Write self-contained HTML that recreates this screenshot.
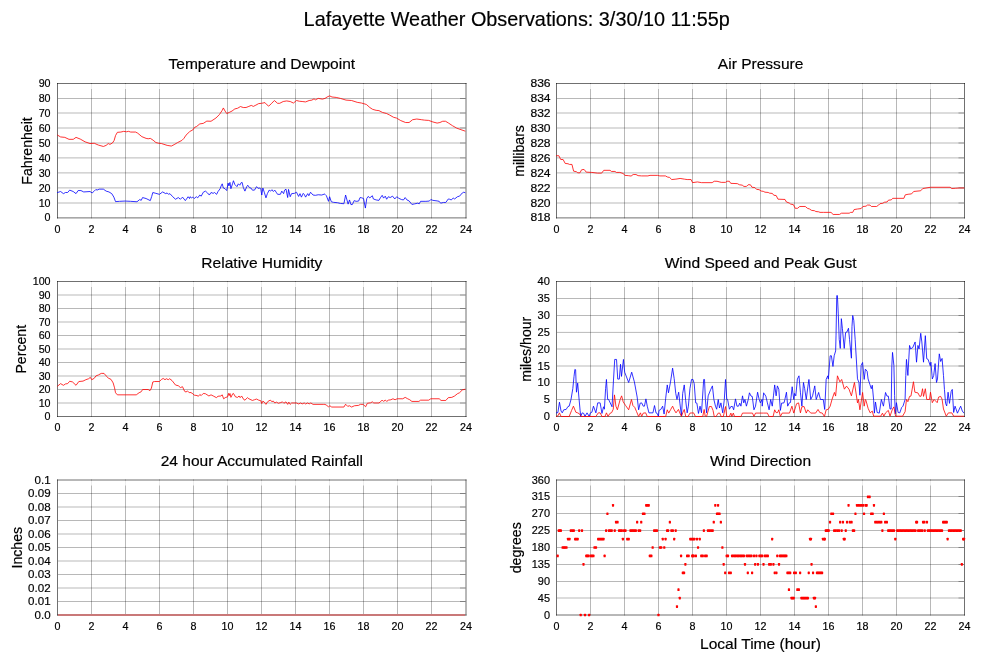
<!DOCTYPE html>
<html lang="en"><head><meta charset="utf-8"><title>Lafayette Weather Observations</title>
<style>html,body{margin:0;padding:0;background:#fff}svg{display:block}text{stroke:#000;stroke-width:.18px}</style></head>
<body>
<svg width="999" height="659" viewBox="0 0 999 659" font-family='"Liberation Sans", sans-serif' fill="#000">
<rect width="999" height="659" fill="#fff"/>
<text x="516.7" y="25.5" font-size="19.85" text-anchor="middle">Lafayette Weather Observations: 3/30/10 11:55p</text>
<g>
<path d="M91.5 83V218.4M125.5 83V218.4M159.5 83V218.4M193.5 83V218.4M227.5 83V218.4M261.5 83V218.4M295.5 83V218.4M329.5 83V218.4M363.5 83V218.4M397.5 83V218.4M431.5 83V218.4M58 203H465.5M58 187.9H465.5M58 172.9H465.5M58 157.9H465.5M58 143H465.5M58 128H465.5M58 113H465.5M58 98.5H465.5" stroke="rgba(0,0,0,0.28)" stroke-width="1" fill="none"/>
<path d="M465.5 203h-5.5M465.5 187.9h-5.5M465.5 172.9h-5.5M465.5 157.9h-5.5M465.5 143h-5.5M465.5 128h-5.5M465.5 113h-5.5M465.5 98.5h-5.5" stroke="rgba(0,0,0,0.30)" stroke-width="1" fill="none"/>
<path d="M91.5 84v5.0M125.5 84v5.0M159.5 84v5.0M193.5 84v5.0M227.5 84v5.0M261.5 84v5.0M295.5 84v5.0M329.5 84v5.0M363.5 84v5.0M397.5 84v5.0M431.5 84v5.0" stroke="rgba(255,255,255,0.75)" stroke-width="1.2" fill="none"/>
<path d="M57 83.5H466.5M57 217.9H466.5M57.5 83V218.4M466 83V218.4" stroke="rgba(0,0,0,0.56)" stroke-width="1" fill="none"/>
<text transform="translate(57.5 232.7) scale(0.95 1)" font-size="11.3" text-anchor="middle">0</text>
<text transform="translate(91.5 232.7) scale(0.95 1)" font-size="11.3" text-anchor="middle">2</text>
<text transform="translate(125.5 232.7) scale(0.95 1)" font-size="11.3" text-anchor="middle">4</text>
<text transform="translate(159.5 232.7) scale(0.95 1)" font-size="11.3" text-anchor="middle">6</text>
<text transform="translate(193.5 232.7) scale(0.95 1)" font-size="11.3" text-anchor="middle">8</text>
<text transform="translate(227.5 232.7) scale(0.95 1)" font-size="11.3" text-anchor="middle">10</text>
<text transform="translate(261.5 232.7) scale(0.95 1)" font-size="11.3" text-anchor="middle">12</text>
<text transform="translate(295.5 232.7) scale(0.95 1)" font-size="11.3" text-anchor="middle">14</text>
<text transform="translate(329.5 232.7) scale(0.95 1)" font-size="11.3" text-anchor="middle">16</text>
<text transform="translate(363.5 232.7) scale(0.95 1)" font-size="11.3" text-anchor="middle">18</text>
<text transform="translate(397.5 232.7) scale(0.95 1)" font-size="11.3" text-anchor="middle">20</text>
<text transform="translate(431.5 232.7) scale(0.95 1)" font-size="11.3" text-anchor="middle">22</text>
<text transform="translate(466 232.7) scale(0.95 1)" font-size="11.3" text-anchor="middle">24</text>
<text transform="translate(50.6 221.4) scale(0.95 1)" font-size="11.3" text-anchor="end">0</text>
<text transform="translate(50.6 206.6) scale(0.95 1)" font-size="11.3" text-anchor="end">10</text>
<text transform="translate(50.6 191.5) scale(0.95 1)" font-size="11.3" text-anchor="end">20</text>
<text transform="translate(50.6 176.5) scale(0.95 1)" font-size="11.3" text-anchor="end">30</text>
<text transform="translate(50.6 161.5) scale(0.95 1)" font-size="11.3" text-anchor="end">40</text>
<text transform="translate(50.6 146.6) scale(0.95 1)" font-size="11.3" text-anchor="end">50</text>
<text transform="translate(50.6 131.6) scale(0.95 1)" font-size="11.3" text-anchor="end">60</text>
<text transform="translate(50.6 116.6) scale(0.95 1)" font-size="11.3" text-anchor="end">70</text>
<text transform="translate(50.6 102.1) scale(0.95 1)" font-size="11.3" text-anchor="end">80</text>
<text transform="translate(50.6 87.1) scale(0.95 1)" font-size="11.3" text-anchor="end">90</text>
<text x="261.85" y="68.9" font-size="15.55" text-anchor="middle">Temperature and Dewpoint</text>
<text transform="translate(32.2 150.95) rotate(-90)" font-size="14.12" text-anchor="middle">Fahrenheit</text>
</g>
<g>
<path d="M590.5 83V218.4M624.5 83V218.4M658.5 83V218.4M692.5 83V218.4M726.5 83V218.4M760.5 83V218.4M794.5 83V218.4M828.5 83V218.4M862.5 83V218.4M896.5 83V218.4M930.5 83V218.4M557 203H964M557 187.9H964M557 172.9H964M557 157.9H964M557 143H964M557 128H964M557 113H964M557 98.5H964" stroke="rgba(0,0,0,0.28)" stroke-width="1" fill="none"/>
<path d="M964 203h-5.5M964 187.9h-5.5M964 172.9h-5.5M964 157.9h-5.5M964 143h-5.5M964 128h-5.5M964 113h-5.5M964 98.5h-5.5" stroke="rgba(0,0,0,0.30)" stroke-width="1" fill="none"/>
<path d="M590.5 84v5.0M624.5 84v5.0M658.5 84v5.0M692.5 84v5.0M726.5 84v5.0M760.5 84v5.0M794.5 84v5.0M828.5 84v5.0M862.5 84v5.0M896.5 84v5.0M930.5 84v5.0" stroke="rgba(255,255,255,0.75)" stroke-width="1.2" fill="none"/>
<path d="M556 83.5H965M556 217.9H965M556.5 83V218.4M964.5 83V218.4" stroke="rgba(0,0,0,0.56)" stroke-width="1" fill="none"/>
<text transform="translate(556.5 232.7) scale(0.95 1)" font-size="11.3" text-anchor="middle">0</text>
<text transform="translate(590.5 232.7) scale(0.95 1)" font-size="11.3" text-anchor="middle">2</text>
<text transform="translate(624.5 232.7) scale(0.95 1)" font-size="11.3" text-anchor="middle">4</text>
<text transform="translate(658.5 232.7) scale(0.95 1)" font-size="11.3" text-anchor="middle">6</text>
<text transform="translate(692.5 232.7) scale(0.95 1)" font-size="11.3" text-anchor="middle">8</text>
<text transform="translate(726.5 232.7) scale(0.95 1)" font-size="11.3" text-anchor="middle">10</text>
<text transform="translate(760.5 232.7) scale(0.95 1)" font-size="11.3" text-anchor="middle">12</text>
<text transform="translate(794.5 232.7) scale(0.95 1)" font-size="11.3" text-anchor="middle">14</text>
<text transform="translate(828.5 232.7) scale(0.95 1)" font-size="11.3" text-anchor="middle">16</text>
<text transform="translate(862.5 232.7) scale(0.95 1)" font-size="11.3" text-anchor="middle">18</text>
<text transform="translate(896.5 232.7) scale(0.95 1)" font-size="11.3" text-anchor="middle">20</text>
<text transform="translate(930.5 232.7) scale(0.95 1)" font-size="11.3" text-anchor="middle">22</text>
<text transform="translate(964.5 232.7) scale(0.95 1)" font-size="11.3" text-anchor="middle">24</text>
<text transform="translate(550.6 221.4) scale(1.07 1)" font-size="11.3" text-anchor="end">818</text>
<text transform="translate(550.6 206.6) scale(1.07 1)" font-size="11.3" text-anchor="end">820</text>
<text transform="translate(550.6 191.5) scale(1.07 1)" font-size="11.3" text-anchor="end">822</text>
<text transform="translate(550.6 176.5) scale(1.07 1)" font-size="11.3" text-anchor="end">824</text>
<text transform="translate(550.6 161.5) scale(1.07 1)" font-size="11.3" text-anchor="end">826</text>
<text transform="translate(550.6 146.6) scale(1.07 1)" font-size="11.3" text-anchor="end">828</text>
<text transform="translate(550.6 131.6) scale(1.07 1)" font-size="11.3" text-anchor="end">830</text>
<text transform="translate(550.6 116.6) scale(1.07 1)" font-size="11.3" text-anchor="end">832</text>
<text transform="translate(550.6 102.1) scale(1.07 1)" font-size="11.3" text-anchor="end">834</text>
<text transform="translate(550.6 87.1) scale(1.07 1)" font-size="11.3" text-anchor="end">836</text>
<text x="760.6" y="68.9" font-size="15.55" text-anchor="middle">Air Pressure</text>
<text transform="translate(524 150.95) rotate(-90)" font-size="14.12" text-anchor="middle">millibars</text>
</g>
<g>
<path d="M91.5 281V417M125.5 281V417M159.5 281V417M193.5 281V417M227.5 281V417M261.5 281V417M295.5 281V417M329.5 281V417M363.5 281V417M397.5 281V417M431.5 281V417M58 403H465.5M58 389.5H465.5M58 376H465.5M58 362.5H465.5M58 349H465.5M58 335.5H465.5M58 322H465.5M58 308.5H465.5M58 295H465.5" stroke="rgba(0,0,0,0.28)" stroke-width="1" fill="none"/>
<path d="M465.5 403h-5.5M465.5 389.5h-5.5M465.5 376h-5.5M465.5 362.5h-5.5M465.5 349h-5.5M465.5 335.5h-5.5M465.5 322h-5.5M465.5 308.5h-5.5M465.5 295h-5.5" stroke="rgba(0,0,0,0.30)" stroke-width="1" fill="none"/>
<path d="M91.5 282v5.0M125.5 282v5.0M159.5 282v5.0M193.5 282v5.0M227.5 282v5.0M261.5 282v5.0M295.5 282v5.0M329.5 282v5.0M363.5 282v5.0M397.5 282v5.0M431.5 282v5.0" stroke="rgba(255,255,255,0.75)" stroke-width="1.2" fill="none"/>
<path d="M57 281.5H466.5M57 416.5H466.5M57.5 281V417M466 281V417" stroke="rgba(0,0,0,0.56)" stroke-width="1" fill="none"/>
<text transform="translate(57.5 431.3) scale(0.95 1)" font-size="11.3" text-anchor="middle">0</text>
<text transform="translate(91.5 431.3) scale(0.95 1)" font-size="11.3" text-anchor="middle">2</text>
<text transform="translate(125.5 431.3) scale(0.95 1)" font-size="11.3" text-anchor="middle">4</text>
<text transform="translate(159.5 431.3) scale(0.95 1)" font-size="11.3" text-anchor="middle">6</text>
<text transform="translate(193.5 431.3) scale(0.95 1)" font-size="11.3" text-anchor="middle">8</text>
<text transform="translate(227.5 431.3) scale(0.95 1)" font-size="11.3" text-anchor="middle">10</text>
<text transform="translate(261.5 431.3) scale(0.95 1)" font-size="11.3" text-anchor="middle">12</text>
<text transform="translate(295.5 431.3) scale(0.95 1)" font-size="11.3" text-anchor="middle">14</text>
<text transform="translate(329.5 431.3) scale(0.95 1)" font-size="11.3" text-anchor="middle">16</text>
<text transform="translate(363.5 431.3) scale(0.95 1)" font-size="11.3" text-anchor="middle">18</text>
<text transform="translate(397.5 431.3) scale(0.95 1)" font-size="11.3" text-anchor="middle">20</text>
<text transform="translate(431.5 431.3) scale(0.95 1)" font-size="11.3" text-anchor="middle">22</text>
<text transform="translate(466 431.3) scale(0.95 1)" font-size="11.3" text-anchor="middle">24</text>
<text transform="translate(50.6 420.1) scale(0.95 1)" font-size="11.3" text-anchor="end">0</text>
<text transform="translate(50.6 406.6) scale(0.95 1)" font-size="11.3" text-anchor="end">10</text>
<text transform="translate(50.6 393.1) scale(0.95 1)" font-size="11.3" text-anchor="end">20</text>
<text transform="translate(50.6 379.6) scale(0.95 1)" font-size="11.3" text-anchor="end">30</text>
<text transform="translate(50.6 366.1) scale(0.95 1)" font-size="11.3" text-anchor="end">40</text>
<text transform="translate(50.6 352.6) scale(0.95 1)" font-size="11.3" text-anchor="end">50</text>
<text transform="translate(50.6 339.1) scale(0.95 1)" font-size="11.3" text-anchor="end">60</text>
<text transform="translate(50.6 325.6) scale(0.95 1)" font-size="11.3" text-anchor="end">70</text>
<text transform="translate(50.6 312.1) scale(0.95 1)" font-size="11.3" text-anchor="end">80</text>
<text transform="translate(50.6 298.6) scale(0.95 1)" font-size="11.3" text-anchor="end">90</text>
<text transform="translate(50.6 285.1) scale(0.95 1)" font-size="11.3" text-anchor="end">100</text>
<text x="261.85" y="267.7" font-size="15.55" text-anchor="middle">Relative Humidity</text>
<text transform="translate(26.2 349.25) rotate(-90)" font-size="14.12" text-anchor="middle">Percent</text>
</g>
<g>
<path d="M590.5 281V417M624.5 281V417M658.5 281V417M692.5 281V417M726.5 281V417M760.5 281V417M794.5 281V417M828.5 281V417M862.5 281V417M896.5 281V417M930.5 281V417M557 399.5H964M557 382.5H964M557 366H964M557 349H964M557 332.4H964M557 315.5H964M557 298.5H964" stroke="rgba(0,0,0,0.28)" stroke-width="1" fill="none"/>
<path d="M964 399.5h-5.5M964 382.5h-5.5M964 366h-5.5M964 349h-5.5M964 332.4h-5.5M964 315.5h-5.5M964 298.5h-5.5" stroke="rgba(0,0,0,0.30)" stroke-width="1" fill="none"/>
<path d="M590.5 282v5.0M624.5 282v5.0M658.5 282v5.0M692.5 282v5.0M726.5 282v5.0M760.5 282v5.0M794.5 282v5.0M828.5 282v5.0M862.5 282v5.0M896.5 282v5.0M930.5 282v5.0" stroke="rgba(255,255,255,0.75)" stroke-width="1.2" fill="none"/>
<path d="M556 281.5H965M556 416.5H965M556.5 281V417M964.5 281V417" stroke="rgba(0,0,0,0.56)" stroke-width="1" fill="none"/>
<text transform="translate(556.5 431.3) scale(0.95 1)" font-size="11.3" text-anchor="middle">0</text>
<text transform="translate(590.5 431.3) scale(0.95 1)" font-size="11.3" text-anchor="middle">2</text>
<text transform="translate(624.5 431.3) scale(0.95 1)" font-size="11.3" text-anchor="middle">4</text>
<text transform="translate(658.5 431.3) scale(0.95 1)" font-size="11.3" text-anchor="middle">6</text>
<text transform="translate(692.5 431.3) scale(0.95 1)" font-size="11.3" text-anchor="middle">8</text>
<text transform="translate(726.5 431.3) scale(0.95 1)" font-size="11.3" text-anchor="middle">10</text>
<text transform="translate(760.5 431.3) scale(0.95 1)" font-size="11.3" text-anchor="middle">12</text>
<text transform="translate(794.5 431.3) scale(0.95 1)" font-size="11.3" text-anchor="middle">14</text>
<text transform="translate(828.5 431.3) scale(0.95 1)" font-size="11.3" text-anchor="middle">16</text>
<text transform="translate(862.5 431.3) scale(0.95 1)" font-size="11.3" text-anchor="middle">18</text>
<text transform="translate(896.5 431.3) scale(0.95 1)" font-size="11.3" text-anchor="middle">20</text>
<text transform="translate(930.5 431.3) scale(0.95 1)" font-size="11.3" text-anchor="middle">22</text>
<text transform="translate(964.5 431.3) scale(0.95 1)" font-size="11.3" text-anchor="middle">24</text>
<text transform="translate(549.9 420.1) scale(0.98 1)" font-size="11.3" text-anchor="end">0</text>
<text transform="translate(549.9 403.1) scale(0.98 1)" font-size="11.3" text-anchor="end">5</text>
<text transform="translate(549.9 386.1) scale(0.98 1)" font-size="11.3" text-anchor="end">10</text>
<text transform="translate(549.9 369.6) scale(0.98 1)" font-size="11.3" text-anchor="end">15</text>
<text transform="translate(549.9 352.6) scale(0.98 1)" font-size="11.3" text-anchor="end">20</text>
<text transform="translate(549.9 336) scale(0.98 1)" font-size="11.3" text-anchor="end">25</text>
<text transform="translate(549.9 319.1) scale(0.98 1)" font-size="11.3" text-anchor="end">30</text>
<text transform="translate(549.9 302.1) scale(0.98 1)" font-size="11.3" text-anchor="end">35</text>
<text transform="translate(549.9 285.1) scale(0.98 1)" font-size="11.3" text-anchor="end">40</text>
<text x="760.6" y="267.7" font-size="15.55" text-anchor="middle">Wind Speed and Peak Gust</text>
<text transform="translate(530.6 349.25) rotate(-90)" font-size="14.12" text-anchor="middle">miles/hour</text>
</g>
<g>
<path d="M91.5 479.5V615.5M125.5 479.5V615.5M159.5 479.5V615.5M193.5 479.5V615.5M227.5 479.5V615.5M261.5 479.5V615.5M295.5 479.5V615.5M329.5 479.5V615.5M363.5 479.5V615.5M397.5 479.5V615.5M431.5 479.5V615.5M58 601.5H465.5M58 588H465.5M58 574.5H465.5M58 561H465.5M58 547.5H465.5M58 534H465.5M58 520.5H465.5M58 507H465.5M58 493.5H465.5" stroke="rgba(0,0,0,0.28)" stroke-width="1" fill="none"/>
<path d="M465.5 601.5h-5.5M465.5 588h-5.5M465.5 574.5h-5.5M465.5 561h-5.5M465.5 547.5h-5.5M465.5 534h-5.5M465.5 520.5h-5.5M465.5 507h-5.5M465.5 493.5h-5.5" stroke="rgba(0,0,0,0.30)" stroke-width="1" fill="none"/>
<path d="M91.5 480.5v5.0M125.5 480.5v5.0M159.5 480.5v5.0M193.5 480.5v5.0M227.5 480.5v5.0M261.5 480.5v5.0M295.5 480.5v5.0M329.5 480.5v5.0M363.5 480.5v5.0M397.5 480.5v5.0M431.5 480.5v5.0" stroke="rgba(255,255,255,0.75)" stroke-width="1.2" fill="none"/>
<path d="M57 480H466.5M57 615H466.5M57.5 479.5V615.5M466 479.5V615.5" stroke="rgba(0,0,0,0.56)" stroke-width="1" fill="none"/>
<text transform="translate(57.5 629.8) scale(0.95 1)" font-size="11.3" text-anchor="middle">0</text>
<text transform="translate(91.5 629.8) scale(0.95 1)" font-size="11.3" text-anchor="middle">2</text>
<text transform="translate(125.5 629.8) scale(0.95 1)" font-size="11.3" text-anchor="middle">4</text>
<text transform="translate(159.5 629.8) scale(0.95 1)" font-size="11.3" text-anchor="middle">6</text>
<text transform="translate(193.5 629.8) scale(0.95 1)" font-size="11.3" text-anchor="middle">8</text>
<text transform="translate(227.5 629.8) scale(0.95 1)" font-size="11.3" text-anchor="middle">10</text>
<text transform="translate(261.5 629.8) scale(0.95 1)" font-size="11.3" text-anchor="middle">12</text>
<text transform="translate(295.5 629.8) scale(0.95 1)" font-size="11.3" text-anchor="middle">14</text>
<text transform="translate(329.5 629.8) scale(0.95 1)" font-size="11.3" text-anchor="middle">16</text>
<text transform="translate(363.5 629.8) scale(0.95 1)" font-size="11.3" text-anchor="middle">18</text>
<text transform="translate(397.5 629.8) scale(0.95 1)" font-size="11.3" text-anchor="middle">20</text>
<text transform="translate(431.5 629.8) scale(0.95 1)" font-size="11.3" text-anchor="middle">22</text>
<text transform="translate(466 629.8) scale(0.95 1)" font-size="11.3" text-anchor="middle">24</text>
<text transform="translate(50.6 618.6) scale(1.025 1)" font-size="11.3" text-anchor="end">0.0</text>
<text transform="translate(50.6 605.1) scale(1.025 1)" font-size="11.3" text-anchor="end">0.01</text>
<text transform="translate(50.6 591.6) scale(1.025 1)" font-size="11.3" text-anchor="end">0.02</text>
<text transform="translate(50.6 578.1) scale(1.025 1)" font-size="11.3" text-anchor="end">0.03</text>
<text transform="translate(50.6 564.6) scale(1.025 1)" font-size="11.3" text-anchor="end">0.04</text>
<text transform="translate(50.6 551.1) scale(1.025 1)" font-size="11.3" text-anchor="end">0.05</text>
<text transform="translate(50.6 537.6) scale(1.025 1)" font-size="11.3" text-anchor="end">0.06</text>
<text transform="translate(50.6 524.1) scale(1.025 1)" font-size="11.3" text-anchor="end">0.07</text>
<text transform="translate(50.6 510.6) scale(1.025 1)" font-size="11.3" text-anchor="end">0.08</text>
<text transform="translate(50.6 497.1) scale(1.025 1)" font-size="11.3" text-anchor="end">0.09</text>
<text transform="translate(50.6 483.6) scale(1.025 1)" font-size="11.3" text-anchor="end">0.1</text>
<text x="261.85" y="465.9" font-size="15.55" text-anchor="middle">24 hour Accumulated Rainfall</text>
<text transform="translate(22 547.75) rotate(-90)" font-size="14.12" text-anchor="middle">Inches</text>
</g>
<g>
<path d="M590.5 479.5V615.5M624.5 479.5V615.5M658.5 479.5V615.5M692.5 479.5V615.5M726.5 479.5V615.5M760.5 479.5V615.5M794.5 479.5V615.5M828.5 479.5V615.5M862.5 479.5V615.5M896.5 479.5V615.5M930.5 479.5V615.5M557 598H964M557 581.5H964M557 564.5H964M557 547.5H964M557 530.5H964M557 513.5H964M557 496.5H964" stroke="rgba(0,0,0,0.28)" stroke-width="1" fill="none"/>
<path d="M964 598h-5.5M964 581.5h-5.5M964 564.5h-5.5M964 547.5h-5.5M964 530.5h-5.5M964 513.5h-5.5M964 496.5h-5.5" stroke="rgba(0,0,0,0.30)" stroke-width="1" fill="none"/>
<path d="M590.5 480.5v5.0M624.5 480.5v5.0M658.5 480.5v5.0M692.5 480.5v5.0M726.5 480.5v5.0M760.5 480.5v5.0M794.5 480.5v5.0M828.5 480.5v5.0M862.5 480.5v5.0M896.5 480.5v5.0M930.5 480.5v5.0" stroke="rgba(255,255,255,0.75)" stroke-width="1.2" fill="none"/>
<path d="M556 480H965M556 615H965M556.5 479.5V615.5M964.5 479.5V615.5" stroke="rgba(0,0,0,0.56)" stroke-width="1" fill="none"/>
<text transform="translate(556.5 629.8) scale(0.95 1)" font-size="11.3" text-anchor="middle">0</text>
<text transform="translate(590.5 629.8) scale(0.95 1)" font-size="11.3" text-anchor="middle">2</text>
<text transform="translate(624.5 629.8) scale(0.95 1)" font-size="11.3" text-anchor="middle">4</text>
<text transform="translate(658.5 629.8) scale(0.95 1)" font-size="11.3" text-anchor="middle">6</text>
<text transform="translate(692.5 629.8) scale(0.95 1)" font-size="11.3" text-anchor="middle">8</text>
<text transform="translate(726.5 629.8) scale(0.95 1)" font-size="11.3" text-anchor="middle">10</text>
<text transform="translate(760.5 629.8) scale(0.95 1)" font-size="11.3" text-anchor="middle">12</text>
<text transform="translate(794.5 629.8) scale(0.95 1)" font-size="11.3" text-anchor="middle">14</text>
<text transform="translate(828.5 629.8) scale(0.95 1)" font-size="11.3" text-anchor="middle">16</text>
<text transform="translate(862.5 629.8) scale(0.95 1)" font-size="11.3" text-anchor="middle">18</text>
<text transform="translate(896.5 629.8) scale(0.95 1)" font-size="11.3" text-anchor="middle">20</text>
<text transform="translate(930.5 629.8) scale(0.95 1)" font-size="11.3" text-anchor="middle">22</text>
<text transform="translate(964.5 629.8) scale(0.95 1)" font-size="11.3" text-anchor="middle">24</text>
<text transform="translate(550 618.6) scale(0.97 1)" font-size="11.3" text-anchor="end">0</text>
<text transform="translate(550 601.6) scale(0.97 1)" font-size="11.3" text-anchor="end">45</text>
<text transform="translate(550 585.1) scale(0.97 1)" font-size="11.3" text-anchor="end">90</text>
<text transform="translate(550 568.1) scale(0.97 1)" font-size="11.3" text-anchor="end">135</text>
<text transform="translate(550 551.1) scale(0.97 1)" font-size="11.3" text-anchor="end">180</text>
<text transform="translate(550 534.1) scale(0.97 1)" font-size="11.3" text-anchor="end">225</text>
<text transform="translate(550 517.1) scale(0.97 1)" font-size="11.3" text-anchor="end">270</text>
<text transform="translate(550 500.1) scale(0.97 1)" font-size="11.3" text-anchor="end">315</text>
<text transform="translate(550 483.6) scale(0.97 1)" font-size="11.3" text-anchor="end">360</text>
<text x="760.6" y="465.9" font-size="15.55" text-anchor="middle">Wind Direction</text>
<text transform="translate(521 547.75) rotate(-90)" font-size="14.12" text-anchor="middle">degrees</text>
<text x="760.5" y="649" font-size="15.55" text-anchor="middle">Local Time (hour)</text>
</g>
<polyline points="57.52,135.13 60.61,136.95 64.81,137.37 69.01,139.34 73.22,139.34 76.02,137.37 80.23,139.06 85.13,141.86 90.04,143.54 94.24,143.26 98.44,145.08 103.35,146.48 106.15,145.36 108.25,143.54 109.93,144.38 112.46,142.98 114.14,140.46 115.54,135.55 117.36,132.33 120.87,132.05 123.67,131.35 126.47,131.77 128.57,131.35 130.68,132.05 135.58,132.05 137.68,133.17 141.89,136.67 146.09,138.36 148.19,138.78 150.3,138.36 153.1,140.18 155.9,142.56 158.7,143.26 161.51,143.54 167.11,145.36 171.32,146.06 174.12,144.66 177.62,142.56 181.83,140.46 183.93,138.36 186.03,135.13 189.53,131.77 190,131.35 192.8,129.95 194.9,127.14 196.31,126.72 199.81,123.92 203.31,123.36 206.82,121.12 211.02,121.26 215.93,118.04 219.43,114.53 222.23,110.33 223.35,107.94 225.04,111.03 226.72,113.55 229.24,112.43 232.04,111.03 234.84,108.93 237.65,108.23 240.45,106.54 243.25,107.52 246.06,107.52 248.86,106.4 251.24,105.42 253.34,106.4 255.87,105.14 258.67,103.6 261.47,103.32 264.97,102.62 266.8,104.72 268.76,106.12 271.28,103.74 274.36,100.52 277.59,103.32 279.69,103.32 283.19,101.5 286.7,100.94 290.2,101.5 293.42,103.04 296.51,100.52 299.31,101.22 302.11,101.5 305.62,101.92 309.12,100.52 311.92,100.1 314.02,98.84 315.43,99.82 318.23,98.42 322.43,99.12 325,98.42 327.1,97.01 329.62,95.89 332.01,97.01 336.21,97.43 340.42,98.42 346.02,100.1 351.63,100.52 357.23,102.34 361.44,103.04 366.34,104.44 369.84,107.52 372.65,109.35 376.15,110.33 378.95,110.61 382.46,112.43 386.66,113.55 389.46,114.95 393.67,117.33 396.47,118.04 400.68,120.56 405.58,122.52 409.08,122.52 412.59,119.72 416.79,119.02 421.7,119.72 424.5,120.14 428.7,120.42 432.91,121.96 437.11,123.08 439.91,122.52 442.72,121.26 445.52,121.26 448.32,122.94 452.53,125.74 456.73,128.13 460.94,129.67 465,131.07" fill="none" stroke="#ff0000" stroke-width="0.8" stroke-linejoin="round" stroke-linecap="round"/>
<polyline points="57.52,192.51 60.61,191.53 63.41,193.63 65.51,192.51 67.61,192.51 69.71,190.13 73.22,191.53 76.02,193.63 78.12,190.55 80.93,190.55 83.73,191.95 90.04,191.53 92.14,192.93 94.24,191.11 95.92,189.43 97.04,190.13 99.14,189.15 103.35,189.15 106.15,191.11 108.95,191.95 111.76,193.63 113.86,197.14 115.54,201.62 119.46,201.34 125.07,201.06 130.68,201.34 136.98,201.76 139.78,199.52 141.19,200.36 142.59,197.56 146.09,198.54 150.3,200.64 151.7,196.44 152.82,192.51 155.9,193.35 159.4,194.33 162.63,191.95 165.71,193.63 167.11,192.93 168.51,194.33 169.91,193.63 172.72,196.72 175.52,199.24 178.32,197.56 180.43,199.24 182.53,197.14 185.33,200.64 188.13,196.72 189.53,198.54 190,196.72 191.4,197.84 192.8,197.14 194.2,198.54 196.31,196.72 197.71,197.84 199.81,195.04 201.21,196.16 203.31,192.23 205.42,191.11 207.52,192.93 209.34,195.04 211.02,192.51 213.12,193.35 214.52,192.51 216.63,194.33 218.03,191.53 220.13,188.73 221.11,185.93 222.23,183.82 223.35,188.03 225.04,188.73 226.72,190.55 228.12,183.12 228.96,185.93 229.94,182.42 230.92,188.73 232.74,183.12 233.44,180.74 234.84,184.52 236.95,186.63 238.35,183.82 239.75,185.23 241.15,182.7 242.13,182.42 243.25,187.33 244.93,191.11 246.76,186.63 247.74,185.23 249.56,187.75 250.96,188.03 252.36,190.13 254.46,190.13 256.57,186.63 257.97,188.31 260.07,188.03 260.77,188.73 261.75,195.04 262.87,188.03 264.27,192.23 265.96,197.84 267.36,193.63 269.18,190.13 270.58,191.11 271.98,189.71 273.38,191.53 274.78,190.13 276.19,192.23 277.59,194.33 280.39,194.33 281.79,191.11 283.61,193.63 284.59,190.13 286,189.15 287.68,197.56 288.52,189.43 290.2,196.72 291.6,193.63 294.4,193.35 296.51,192.23 298.61,196.44 300.01,193.63 301.41,197.14 303.23,193.35 304.21,194.33 305.62,197.14 307.72,193.63 308.84,195.74 310.52,192.23 313.04,195.04 315.43,195.32 318.23,194.75 321.73,195.04 324.53,194.05 325,194.33 326.4,195.74 328.5,201.34 329.62,196.72 331.31,201.76 333.41,202.32 337.61,202.74 340.42,203.44 343.92,203.72 345.6,195.04 348.12,204.14 349.52,199.94 350.93,204.56 352.33,204.56 354.15,200.64 356.11,201.34 358.63,201.06 360.04,197.56 361.72,197.84 363.54,198.54 365.36,208.07 366.76,198.54 368.16,196.44 369.84,197.84 372.37,195.74 373.35,198.96 376.15,199.94 378.95,200.36 380.36,197.84 382.18,195.32 383.58,198.12 385.26,196.16 386.66,199.24 388.34,196.72 390.17,197.56 392.55,196.16 394.79,198.96 396.75,196.72 398.57,198.12 401.38,199.52 403.48,199.94 405.16,197.56 406.98,199.94 409.08,200.92 411.89,204.42 414.69,203.86 417.77,203.16 419.17,203.86 420.58,201.34 425.9,201.34 429.4,201.06 430.81,199.52 432.91,200.36 437.11,200.92 439.21,201.34 440.62,203.16 443.42,202.46 445.8,202.46 448.32,198.96 449.72,199.24 451.13,199.94 453.23,198.12 454.63,198.96 457.43,196.72 459.53,196.16 462.34,192.93 463.74,192.23 465,192.65" fill="none" stroke="#0000ff" stroke-width="0.8" stroke-linejoin="round" stroke-linecap="round"/>
<polyline points="556.52,155.74 558.9,155.74 560.73,159.52 563.11,159.52 565.21,163.45 568.01,163.73 569.42,164.43 571.94,164.43 573.62,171.16 576.42,171.72 577.82,172.84 579.93,172.84 581.61,169.75 584.13,169.47 586.23,172.14 591.84,172.42 597.44,173.12 601.65,173.12 603.75,170.32 610.06,170.32 611.46,171.44 614.96,171.44 616.36,172.42 619.87,172.42 623.37,173.54 624.77,175.36 628.27,175.64 631.08,176.06 633.18,174.52 635.98,174.52 638.08,175.64 641.59,175.92 647.89,175.92 650,175.36 657.7,175.36 659.81,175.92 665.41,175.92 667.51,177.04 669.62,177.46 671.72,179.56 675.92,179.14 680.13,178.44 684.33,179.14 687.13,179.56 689,179.56 691.1,179.56 692.5,182.65 697.41,181.95 701.61,182.65 712.12,182.65 714.23,181.25 717.03,181.25 721.23,182.37 725.44,182.37 727.12,181.25 729.36,181.25 730.76,183.35 737.35,183.63 739.45,184.75 742.25,185.17 743.93,186.43 746.46,186.43 748.14,184.75 750.38,184.75 752.06,187.27 754.87,187.55 756.55,189.37 759.07,189.65 761.17,191.06 763.27,191.34 764.96,192.18 768.18,192.46 769.58,193.16 772.38,193.44 773.78,195.26 776.17,195.54 777.99,199.18 785,199.46 786.4,201.99 789.2,202.97 790.6,204.09 793.4,204.65 795.23,208.29 797.61,208.29 799.71,206.47 805.32,206.47 807.42,208.29 809.52,208.99 811.62,210.4 814.43,210.68 815.83,211.52 818.63,211.8 820.03,212.36 823.53,212.36 824,212.36 831.01,212.36 833.11,214.46 839.42,214.46 841.52,213.2 849.23,213.2 850.63,212.36 852.73,212.36 854.13,209.55 857.63,208.99 861.14,208.57 862.96,206.47 866.04,206.19 867.44,205.07 869.97,205.07 871.37,206.47 876.55,206.47 878.65,205.07 880.06,203.67 882.86,203.25 884.26,202.27 887.06,201.99 888.46,200.17 891.27,199.88 892.67,198.34 903.88,198.34 905.28,194.84 908.08,194.28 911.59,193.86 913.69,191.48 920.7,190.78 922.8,188.53 927,187.83 930.51,187.27 950.13,187.27 951.81,188.53 955.73,188.25 959.24,187.97 964,187.97" fill="none" stroke="#ff0000" stroke-width="0.8" stroke-linejoin="round" stroke-linecap="round"/>
<polyline points="57.52,386.16 60.61,383.63 63.41,385.32 65.51,383.91 67.61,383.63 69.71,381.25 72.52,381.95 76.02,385.32 78.82,381.53 83.03,381.11 85.83,379.71 88.63,378.73 90.32,377.33 91.72,379.71 94.24,378.31 95.92,375.93 98.44,374.94 101.25,373.4 104.05,373.4 106.15,375.93 108.25,378.03 111.06,379.43 113.16,382.93 114.56,387.84 115.54,392.74 117.36,394.84 136.28,394.84 139.08,392.74 141.19,391.76 142.59,389.52 148.19,389.52 150.02,390.64 151.42,388.12 152.82,381.95 154.5,381.53 159.4,381.53 161.51,379.43 163.19,378.45 165.01,379.71 166.41,378.73 168.23,379.71 169.63,378.73 172.02,380.55 175.52,385.04 178.32,385.74 180.43,387.56 182.53,386.72 184.63,391.34 186.03,392.04 187.43,390.92 189.25,392.74 190,392.32 192.1,393.16 194.2,395.13 197.01,395.55 198.41,396.25 199.81,394.56 201.21,395.55 203.31,393.44 205.42,393.72 208.92,395.97 211.02,394.84 213.82,396.25 216.35,397.65 218.03,396.25 220.83,395.97 222.23,394.84 223.63,398.77 225.74,397.37 227.56,396.95 228.54,393.44 229.24,395.55 229.94,393.44 230.92,397.37 232.74,393.72 233.44,393.44 235.55,396.95 237.65,397.37 239.05,395.97 240.17,397.65 241.57,395.97 243.95,399.75 244.93,400.17 247.46,397.65 248.86,398.77 252.36,400.45 254.46,399.75 256.57,399.05 258.67,400.17 260.77,400.73 261.75,403.53 262.87,401.15 264.27,402.13 265.96,404.37 267.78,401.57 270.16,400.17 271.98,401.57 273.38,401.15 274.78,402.97 276.61,402.13 278.29,403.25 280.81,402.55 282.49,401.85 283.89,403.25 286,401.85 287.68,404.37 288.8,402.13 290.2,404.37 291.6,402.97 296.51,402.97 298.61,403.95 300.71,402.97 302.11,403.95 304.21,402.97 305.62,403.95 307.72,402.97 309.12,403.95 310.8,402.97 313.04,404.37 323.83,404.37 325,404.37 326.68,405.36 328.5,406.76 329.9,405.78 331.73,407.04 343.92,407.04 345.6,404.23 347.7,406.34 349.52,405.78 351.63,407.04 354.43,405.78 358.63,405.36 360.32,404.37 363.12,404.37 365.64,406.76 367.32,403.25 370.55,402.83 372.37,401.85 373.77,402.97 378.95,402.97 380.36,401.85 382.18,400.03 383.58,401.43 385.26,400.03 386.66,401.43 388.34,400.17 390.87,399.75 392.97,398.77 395.07,399.75 397.17,398.77 402.78,398.77 405.16,397.37 407.68,398.77 409.78,399.75 411.89,401.43 418.89,401.43 420.58,400.17 428.7,400.17 430.81,398.77 439.21,398.77 441.04,400.45 445.8,400.45 448.32,397.65 451.83,397.37 454.63,395.97 457.43,393.72 459.53,392.74 462.34,389.94 465,389.24" fill="none" stroke="#ff0000" stroke-width="0.8" stroke-linejoin="round" stroke-linecap="round"/>
<polyline points="556.43,412.85 557.89,412.6 559.46,402.16 561.04,411.03 562.26,412.85 563.71,409.81 566.14,409.45 567.96,406.53 569.18,406.17 571,399.49 572.82,388.57 574.03,376.42 574.88,369.38 575.61,369.75 576.46,392.21 577.68,383.1 578.89,397.06 580.1,410.42 580.71,416.49 582.17,412.85 583.75,413.45 584.96,416.49 587.02,412.85 589.21,416.49 590.42,412.85 591.88,412.24 593.46,406.17 595.89,412.85 597.71,402.89 600.14,402.89 601.96,413.45 603.54,406.78 604.39,409.21 605.6,388.57 606.45,379.46 607.66,399.49 608.64,399.49 612.04,406.78 613.49,380.07 614.71,359.43 616.53,359.43 617.74,379.09 619.32,379.09 620.53,364.28 621.51,376.42 623.45,359.43 624.66,372.17 628.67,382.49 631.7,372.17 634.38,381.89 637.17,397.06 638.62,409.81 640.2,403.13 641.66,402.89 643.24,406.17 644.45,406.17 645.91,398.89 647.25,406.17 648.94,412.85 652.95,412.85 654.53,405.56 655.99,412.85 657.2,413.45 658.42,416.49 659,410.42 660.82,409.45 662.64,406.17 664.1,414.06 665.68,398.28 667.26,384.92 668.47,392.81 670.53,381.89 672.6,368.17 674.18,378.61 675.75,393.42 676.97,399.49 678.67,392.21 679.88,403.13 681.46,415.88 682.68,393.42 684.25,384.92 685.71,400.71 687.17,412.85 688.38,406.17 689.96,388.57 691.54,379.46 693,379.46 694.21,383.71 695.67,402.89 696.88,403.13 698.46,413.45 700.04,406.17 701.49,412.85 702.95,390.99 703.68,379.46 704.53,379.46 705.38,399.49 706.59,412.85 708.17,395.85 710.6,389.78 712.42,385.89 713.88,399.49 715.46,406.17 716.67,409.21 718.25,399.49 719.46,407.99 720.92,402.89 722.74,412.85 724.32,399.49 725.53,379.46 726.75,399.25 727.6,399.49 729.42,409.21 730.88,406.53 732.45,406.53 733.67,409.81 735.49,398.89 736.95,406.17 738.53,406.17 739.74,403.13 740.95,406.17 742.53,395.85 743.75,402.89 744.96,399.49 746.42,406.17 748.24,399.49 749.45,392.81 751.03,396.09 752.25,396.46 753.94,409.81 755.52,406.17 757.59,392.21 759.17,399.49 760.38,402.89 761.96,399.49 762.2,406.17 763.66,392.81 764,393.42 765.82,396.09 767.4,402.89 769.1,409.81 770.68,399.49 772.26,406.17 773.47,395.85 774.68,384.92 776.14,395.85 777.36,385.89 778.81,389.17 780.39,410.42 781.6,403.13 784.03,402.89 784.88,399.49 786.46,392.21 787.68,406.17 789.25,402.89 790.47,402.53 792.17,386.74 793.75,399.49 794.6,393.42 795.81,395.85 797.39,379.09 798.97,375.82 800.42,392.21 801.88,406.17 803.46,382.49 804.67,388.57 806.25,399.49 807.95,386.14 808.92,379.46 810.74,399.49 812.57,395.85 814.75,385.89 816.21,399.49 817.42,396.09 818.64,392.45 820.46,399.49 823.25,399.49 824.71,409.45 826.16,379.46 827.74,375.82 828.35,379.09 830.17,355.78 831.38,355.78 832.96,366.47 834.18,355.78 835.63,350.93 836.04,335.13 836.78,295.6 837.42,295.6 838.27,313.88 839.22,339.39 840.29,348.42 841.35,318.66 842.41,328.76 844.22,348.42 845.6,332.48 846.98,331.95 848.47,328.23 849.53,339.39 851.42,358.21 851.98,326.63 852.72,315.48 853.78,320.26 855.16,339.39 857.49,378.85 858.94,382.49 859.92,395.24 861.13,365.5 862.59,362.46 864.17,379.46 865.38,369.14 866,369.88 867.12,371.28 868.09,378.95 869.91,384.54 871.3,388.72 872.28,385.23 873.68,400.59 874.38,413.15 875.49,401.99 877.17,412.46 879.26,413.15 881.36,399.47 883.45,406.17 885.54,392.49 886.94,396.12 888.34,396.12 890.01,408.97 891.13,408.97 891.83,365.69 892.52,352.43 893.92,365.69 894.62,395.7 895.32,413.85 896.43,402.68 898.11,412.46 899.78,412.88 901.6,407.57 902.99,406.17 905.09,399.47 905.79,375.46 906.48,359.41 907.88,375.46 909.55,345.45 910.67,348.94 912.77,347.54 915.14,341.96 916.53,362.2 917.93,345.45 919.05,348.94 920.72,333.3 921.84,341.96 923.51,362.2 925.33,335.68 926.72,358.71 928.12,359.41 930.21,365.69 930.91,362.2 932.31,378.95 933.7,375.46 935.1,363.6 936.5,382.44 937.47,378.95 939.29,353.83 940.68,361.5 942.08,358.43 943.48,375.46 944.45,389.42 945.57,403.38 946.69,405.9 948.08,392.21 949.48,403.38 951.15,391.52 952.27,389.42 953.67,412.46 955.06,406.17 957.44,413.15 960.65,406.17 962.32,411.06 963.72,412.88" fill="none" stroke="#0000ff" stroke-width="0.8" stroke-linejoin="round" stroke-linecap="round"/>
<polyline points="556.43,416.49 557.89,415.88 559.46,412.85 561.04,416.49 569.18,416.49 571.6,410.42 573.43,406.17 575.85,412.24 577.68,412.85 579.74,414.06 580.95,416.49 595.89,416.49 598.32,412.85 600.14,412.85 601.96,416.49 604.99,416.49 606.45,412.85 608.03,416.49 609.85,413.45 611.67,412.6 613.25,409.21 614.46,394.88 615.92,406.17 617.38,409.81 620.17,399.49 621.63,395.85 623.21,401.92 625.63,405.56 628.67,409.81 631.46,399.49 632.92,405.56 634.74,407.38 636.56,411.63 638.62,416.49 640.45,412.85 641.66,416.49 643.24,413.09 645.67,412.85 647.25,416.49 658.42,416.49 659,416.49 665.68,416.49 667.26,409.81 668.71,413.09 670.53,409.81 672.6,406.17 674.18,409.81 676,412.85 678.43,409.45 679.88,413.09 681.46,416.49 682.68,412.85 684.25,409.45 685.71,416.49 688.14,416.49 689.96,413.09 693.6,412.85 695.42,416.49 702.71,416.49 704.17,409.45 705.14,415.88 706.59,416.49 707.57,412.85 709.39,406.53 711.45,406.53 713.03,410.42 714.24,416.49 716.06,416.49 718.25,413.09 719.71,413.09 721.16,416.49 723.35,416.49 725.53,406.53 726.75,416.49 729.42,416.49 730.88,413.09 731.85,416.49 733.3,413.09 734.52,416.49 740.95,416.49 742.53,413.09 752.49,413.09 753.94,416.49 755.52,413.09 763.42,413.09 764,413.09 767.4,413.09 769.1,416.49 773.11,416.49 774.68,409.81 776.14,412.6 777.6,412.6 778.81,409.81 780.39,416.49 782.21,413.09 789.5,413.09 791.92,406.17 793.75,413.09 796.54,403.74 798.6,402.89 800.42,412.85 801.88,406.78 804.07,406.53 806.25,413.09 807.71,409.81 810.74,413.09 815.6,413.09 818.03,409.45 819.85,412.6 822.28,413.09 824.46,416.49 826.16,409.81 828.35,409.21 830.17,406.17 831.99,399.49 834.42,392.45 835.63,396.09 837.45,375.82 839.88,381.89 841.7,379.46 844.38,389.17 846.56,386.14 848.99,389.17 851.42,395.85 854.45,382.49 857.49,402.89 858.46,399.49 859.92,409.81 862.59,392.45 864.17,406.17 865.38,399.49 866,400.59 868.09,408.27 870.19,412.88 872.28,411.06 873.68,416.23 880.66,416.23 882.47,413.15 883.87,416.23 885.54,412.88 888.34,410.36 890.01,416.23 892.52,408.97 893.92,406.87 895.59,416.23 902.57,416.23 905.09,411.76 906.48,399.47 907.88,401.71 909.55,396.4 910.95,396.12 913.46,381.74 914.86,392.21 917.93,392.91 919.74,396.4 921.14,396.12 922.54,388.72 923.51,396.4 925.33,388.72 926.72,399.47 929.52,399.47 930.49,392.21 932.31,402.68 934.12,399.47 937.19,402.68 938.59,397.1 940.68,396.4 942.08,399.19 943.48,408.97 946.27,416.23 948.36,412.88 951.85,412.88 953.67,416.23 963.72,416.23" fill="none" stroke="#ff0000" stroke-width="0.8" stroke-linejoin="round" stroke-linecap="round"/>
<rect x="58" y="614" width="407" height="2" fill="rgb(201,120,120)"/>
<g fill="#ff0000"><rect x="556.56" y="554.59" width="2.2" height="2.7" rx="0.6"/><rect x="585.21" y="554.59" width="2.2" height="2.7" rx="0.6"/><rect x="586.28" y="554.59" width="2.2" height="2.7" rx="0.6"/><rect x="587.36" y="554.59" width="2.2" height="2.7" rx="0.6"/><rect x="589.52" y="554.59" width="2.2" height="2.7" rx="0.6"/><rect x="590.92" y="554.59" width="2.2" height="2.7" rx="0.6"/><rect x="592.32" y="554.59" width="2.2" height="2.7" rx="0.6"/><rect x="603.52" y="554.59" width="2.2" height="2.7" rx="0.6"/><rect x="648.75" y="554.59" width="2.2" height="2.7" rx="0.6"/><rect x="650.25" y="554.59" width="2.2" height="2.7" rx="0.6"/><rect x="679.98" y="554.59" width="2.2" height="2.7" rx="0.6"/><rect x="686.01" y="554.59" width="2.2" height="2.7" rx="0.6"/><rect x="687.52" y="554.59" width="2.2" height="2.7" rx="0.6"/><rect x="691.18" y="554.59" width="2.2" height="2.7" rx="0.6"/><rect x="557.64" y="529.27" width="2.2" height="2.7" rx="0.6"/><rect x="558.72" y="529.27" width="2.2" height="2.7" rx="0.6"/><rect x="559.79" y="529.27" width="2.2" height="2.7" rx="0.6"/><rect x="569.7" y="529.27" width="2.2" height="2.7" rx="0.6"/><rect x="571.21" y="529.27" width="2.2" height="2.7" rx="0.6"/><rect x="572.72" y="529.27" width="2.2" height="2.7" rx="0.6"/><rect x="578.1" y="529.27" width="2.2" height="2.7" rx="0.6"/><rect x="580.9" y="529.27" width="2.2" height="2.7" rx="0.6"/><rect x="605.02" y="529.27" width="2.2" height="2.7" rx="0.6"/><rect x="607.82" y="529.27" width="2.2" height="2.7" rx="0.6"/><rect x="609.22" y="529.27" width="2.2" height="2.7" rx="0.6"/><rect x="610.62" y="529.27" width="2.2" height="2.7" rx="0.6"/><rect x="613.64" y="529.27" width="2.2" height="2.7" rx="0.6"/><rect x="617.95" y="529.27" width="2.2" height="2.7" rx="0.6"/><rect x="619.35" y="529.27" width="2.2" height="2.7" rx="0.6"/><rect x="620.75" y="529.27" width="2.2" height="2.7" rx="0.6"/><rect x="622.9" y="529.27" width="2.2" height="2.7" rx="0.6"/><rect x="624.41" y="529.27" width="2.2" height="2.7" rx="0.6"/><rect x="629.36" y="529.27" width="2.2" height="2.7" rx="0.6"/><rect x="630.71" y="529.27" width="2.2" height="2.7" rx="0.6"/><rect x="632.05" y="529.27" width="2.2" height="2.7" rx="0.6"/><rect x="633.4" y="529.27" width="2.2" height="2.7" rx="0.6"/><rect x="634.75" y="529.27" width="2.2" height="2.7" rx="0.6"/><rect x="637.55" y="529.27" width="2.2" height="2.7" rx="0.6"/><rect x="639.05" y="529.27" width="2.2" height="2.7" rx="0.6"/><rect x="653.05" y="529.27" width="2.2" height="2.7" rx="0.6"/><rect x="654.45" y="529.27" width="2.2" height="2.7" rx="0.6"/><rect x="655.85" y="529.27" width="2.2" height="2.7" rx="0.6"/><rect x="665.98" y="529.27" width="2.2" height="2.7" rx="0.6"/><rect x="667.05" y="529.27" width="2.2" height="2.7" rx="0.6"/><rect x="670.28" y="529.27" width="2.2" height="2.7" rx="0.6"/><rect x="671.79" y="529.27" width="2.2" height="2.7" rx="0.6"/><rect x="674.59" y="529.27" width="2.2" height="2.7" rx="0.6"/><rect x="566.9" y="537.71" width="2.2" height="2.7" rx="0.6"/><rect x="568.41" y="537.71" width="2.2" height="2.7" rx="0.6"/><rect x="574.01" y="537.71" width="2.2" height="2.7" rx="0.6"/><rect x="575.3" y="537.71" width="2.2" height="2.7" rx="0.6"/><rect x="576.59" y="537.71" width="2.2" height="2.7" rx="0.6"/><rect x="597.05" y="537.71" width="2.2" height="2.7" rx="0.6"/><rect x="598.4" y="537.71" width="2.2" height="2.7" rx="0.6"/><rect x="599.75" y="537.71" width="2.2" height="2.7" rx="0.6"/><rect x="601.09" y="537.71" width="2.2" height="2.7" rx="0.6"/><rect x="602.44" y="537.71" width="2.2" height="2.7" rx="0.6"/><rect x="621.82" y="537.71" width="2.2" height="2.7" rx="0.6"/><rect x="626.13" y="537.71" width="2.2" height="2.7" rx="0.6"/><rect x="627.64" y="537.71" width="2.2" height="2.7" rx="0.6"/><rect x="661.67" y="537.71" width="2.2" height="2.7" rx="0.6"/><rect x="664.47" y="537.71" width="2.2" height="2.7" rx="0.6"/><rect x="673.08" y="537.71" width="2.2" height="2.7" rx="0.6"/><rect x="561.52" y="546.15" width="2.2" height="2.7" rx="0.6"/><rect x="562.81" y="546.15" width="2.2" height="2.7" rx="0.6"/><rect x="564.1" y="546.15" width="2.2" height="2.7" rx="0.6"/><rect x="565.39" y="546.15" width="2.2" height="2.7" rx="0.6"/><rect x="593.39" y="546.15" width="2.2" height="2.7" rx="0.6"/><rect x="594.9" y="546.15" width="2.2" height="2.7" rx="0.6"/><rect x="651.55" y="546.15" width="2.2" height="2.7" rx="0.6"/><rect x="658.87" y="546.15" width="2.2" height="2.7" rx="0.6"/><rect x="660.16" y="546.15" width="2.2" height="2.7" rx="0.6"/><rect x="663.18" y="546.15" width="2.2" height="2.7" rx="0.6"/><rect x="582.41" y="563.02" width="2.2" height="2.7" rx="0.6"/><rect x="684.28" y="563.02" width="2.2" height="2.7" rx="0.6"/><rect x="579.61" y="613.65" width="2.2" height="2.7" rx="0.6"/><rect x="583.92" y="613.65" width="2.2" height="2.7" rx="0.6"/><rect x="588.01" y="613.65" width="2.2" height="2.7" rx="0.6"/><rect x="657.36" y="613.65" width="2.2" height="2.7" rx="0.6"/><rect x="611.92" y="503.96" width="2.2" height="2.7" rx="0.6"/><rect x="645.08" y="503.96" width="2.2" height="2.7" rx="0.6"/><rect x="646.38" y="503.96" width="2.2" height="2.7" rx="0.6"/><rect x="647.67" y="503.96" width="2.2" height="2.7" rx="0.6"/><rect x="606.32" y="512.4" width="2.2" height="2.7" rx="0.6"/><rect x="641.85" y="512.4" width="2.2" height="2.7" rx="0.6"/><rect x="643.36" y="512.4" width="2.2" height="2.7" rx="0.6"/><rect x="614.93" y="520.84" width="2.2" height="2.7" rx="0.6"/><rect x="616.44" y="520.84" width="2.2" height="2.7" rx="0.6"/><rect x="636.04" y="520.84" width="2.2" height="2.7" rx="0.6"/><rect x="640.13" y="520.84" width="2.2" height="2.7" rx="0.6"/><rect x="668.78" y="520.84" width="2.2" height="2.7" rx="0.6"/><rect x="681.7" y="571.46" width="2.2" height="2.7" rx="0.6"/><rect x="682.99" y="571.46" width="2.2" height="2.7" rx="0.6"/><rect x="677.39" y="588.34" width="2.2" height="2.7" rx="0.6"/><rect x="678.68" y="596.77" width="2.2" height="2.7" rx="0.6"/><rect x="675.88" y="605.21" width="2.2" height="2.7" rx="0.6"/><rect x="689.19" y="537.71" width="2.2" height="2.7" rx="0.6"/><rect x="690.56" y="537.71" width="2.2" height="2.7" rx="0.6"/><rect x="691.92" y="537.71" width="2.2" height="2.7" rx="0.6"/><rect x="693.28" y="537.71" width="2.2" height="2.7" rx="0.6"/><rect x="695.87" y="537.71" width="2.2" height="2.7" rx="0.6"/><rect x="698.67" y="537.71" width="2.2" height="2.7" rx="0.6"/><rect x="771.04" y="537.71" width="2.2" height="2.7" rx="0.6"/><rect x="808.95" y="537.71" width="2.2" height="2.7" rx="0.6"/><rect x="809.81" y="537.71" width="2.2" height="2.7" rx="0.6"/><rect x="821.87" y="537.71" width="2.2" height="2.7" rx="0.6"/><rect x="823.59" y="537.71" width="2.2" height="2.7" rx="0.6"/><rect x="696.95" y="546.15" width="2.2" height="2.7" rx="0.6"/><rect x="721.28" y="546.15" width="2.2" height="2.7" rx="0.6"/><rect x="691.56" y="554.59" width="2.2" height="2.7" rx="0.6"/><rect x="692.64" y="554.59" width="2.2" height="2.7" rx="0.6"/><rect x="694.79" y="554.59" width="2.2" height="2.7" rx="0.6"/><rect x="700.18" y="554.59" width="2.2" height="2.7" rx="0.6"/><rect x="701.68" y="554.59" width="2.2" height="2.7" rx="0.6"/><rect x="704.05" y="554.59" width="2.2" height="2.7" rx="0.6"/><rect x="705.56" y="554.59" width="2.2" height="2.7" rx="0.6"/><rect x="725.59" y="554.59" width="2.2" height="2.7" rx="0.6"/><rect x="726.88" y="554.59" width="2.2" height="2.7" rx="0.6"/><rect x="730.98" y="554.59" width="2.2" height="2.7" rx="0.6"/><rect x="732.46" y="554.59" width="2.2" height="2.7" rx="0.6"/><rect x="733.94" y="554.59" width="2.2" height="2.7" rx="0.6"/><rect x="735.42" y="554.59" width="2.2" height="2.7" rx="0.6"/><rect x="736.9" y="554.59" width="2.2" height="2.7" rx="0.6"/><rect x="738.38" y="554.59" width="2.2" height="2.7" rx="0.6"/><rect x="739.86" y="554.59" width="2.2" height="2.7" rx="0.6"/><rect x="741.34" y="554.59" width="2.2" height="2.7" rx="0.6"/><rect x="742.82" y="554.59" width="2.2" height="2.7" rx="0.6"/><rect x="745.62" y="554.59" width="2.2" height="2.7" rx="0.6"/><rect x="747.2" y="554.59" width="2.2" height="2.7" rx="0.6"/><rect x="748.78" y="554.59" width="2.2" height="2.7" rx="0.6"/><rect x="750.36" y="554.59" width="2.2" height="2.7" rx="0.6"/><rect x="752.95" y="554.59" width="2.2" height="2.7" rx="0.6"/><rect x="755.32" y="554.59" width="2.2" height="2.7" rx="0.6"/><rect x="758.33" y="554.59" width="2.2" height="2.7" rx="0.6"/><rect x="759.73" y="554.59" width="2.2" height="2.7" rx="0.6"/><rect x="761.13" y="554.59" width="2.2" height="2.7" rx="0.6"/><rect x="763.72" y="554.59" width="2.2" height="2.7" rx="0.6"/><rect x="765.22" y="554.59" width="2.2" height="2.7" rx="0.6"/><rect x="766.73" y="554.59" width="2.2" height="2.7" rx="0.6"/><rect x="776.21" y="554.59" width="2.2" height="2.7" rx="0.6"/><rect x="778.79" y="554.59" width="2.2" height="2.7" rx="0.6"/><rect x="780.08" y="554.59" width="2.2" height="2.7" rx="0.6"/><rect x="781.38" y="554.59" width="2.2" height="2.7" rx="0.6"/><rect x="782.67" y="554.59" width="2.2" height="2.7" rx="0.6"/><rect x="783.96" y="554.59" width="2.2" height="2.7" rx="0.6"/><rect x="785.25" y="554.59" width="2.2" height="2.7" rx="0.6"/><rect x="702.76" y="529.27" width="2.2" height="2.7" rx="0.6"/><rect x="706.85" y="529.27" width="2.2" height="2.7" rx="0.6"/><rect x="708.43" y="529.27" width="2.2" height="2.7" rx="0.6"/><rect x="710.01" y="529.27" width="2.2" height="2.7" rx="0.6"/><rect x="711.59" y="529.27" width="2.2" height="2.7" rx="0.6"/><rect x="824.67" y="529.27" width="2.2" height="2.7" rx="0.6"/><rect x="825.75" y="529.27" width="2.2" height="2.7" rx="0.6"/><rect x="826.82" y="529.27" width="2.2" height="2.7" rx="0.6"/><rect x="712.67" y="520.84" width="2.2" height="2.7" rx="0.6"/><rect x="719.78" y="520.84" width="2.2" height="2.7" rx="0.6"/><rect x="715.9" y="512.4" width="2.2" height="2.7" rx="0.6"/><rect x="717.19" y="512.4" width="2.2" height="2.7" rx="0.6"/><rect x="718.48" y="512.4" width="2.2" height="2.7" rx="0.6"/><rect x="714.18" y="503.96" width="2.2" height="2.7" rx="0.6"/><rect x="716.98" y="503.96" width="2.2" height="2.7" rx="0.6"/><rect x="722.58" y="563.02" width="2.2" height="2.7" rx="0.6"/><rect x="743.9" y="563.02" width="2.2" height="2.7" rx="0.6"/><rect x="754.02" y="563.02" width="2.2" height="2.7" rx="0.6"/><rect x="756.82" y="563.02" width="2.2" height="2.7" rx="0.6"/><rect x="762.42" y="563.02" width="2.2" height="2.7" rx="0.6"/><rect x="768.02" y="563.02" width="2.2" height="2.7" rx="0.6"/><rect x="769.75" y="563.02" width="2.2" height="2.7" rx="0.6"/><rect x="772.33" y="563.02" width="2.2" height="2.7" rx="0.6"/><rect x="777.93" y="563.02" width="2.2" height="2.7" rx="0.6"/><rect x="810.45" y="563.02" width="2.2" height="2.7" rx="0.6"/><rect x="724.08" y="571.46" width="2.2" height="2.7" rx="0.6"/><rect x="727.96" y="571.46" width="2.2" height="2.7" rx="0.6"/><rect x="729.68" y="571.46" width="2.2" height="2.7" rx="0.6"/><rect x="746.7" y="571.46" width="2.2" height="2.7" rx="0.6"/><rect x="751.01" y="571.46" width="2.2" height="2.7" rx="0.6"/><rect x="773.62" y="571.46" width="2.2" height="2.7" rx="0.6"/><rect x="775.35" y="571.46" width="2.2" height="2.7" rx="0.6"/><rect x="786.33" y="571.46" width="2.2" height="2.7" rx="0.6"/><rect x="787.73" y="571.46" width="2.2" height="2.7" rx="0.6"/><rect x="789.13" y="571.46" width="2.2" height="2.7" rx="0.6"/><rect x="793.01" y="571.46" width="2.2" height="2.7" rx="0.6"/><rect x="794.73" y="571.46" width="2.2" height="2.7" rx="0.6"/><rect x="799.04" y="571.46" width="2.2" height="2.7" rx="0.6"/><rect x="807.65" y="571.46" width="2.2" height="2.7" rx="0.6"/><rect x="811.96" y="571.46" width="2.2" height="2.7" rx="0.6"/><rect x="815.84" y="571.46" width="2.2" height="2.7" rx="0.6"/><rect x="817.13" y="571.46" width="2.2" height="2.7" rx="0.6"/><rect x="818.42" y="571.46" width="2.2" height="2.7" rx="0.6"/><rect x="819.72" y="571.46" width="2.2" height="2.7" rx="0.6"/><rect x="821.01" y="571.46" width="2.2" height="2.7" rx="0.6"/><rect x="787.84" y="588.34" width="2.2" height="2.7" rx="0.6"/><rect x="796.24" y="588.34" width="2.2" height="2.7" rx="0.6"/><rect x="797.75" y="588.34" width="2.2" height="2.7" rx="0.6"/><rect x="790.42" y="596.77" width="2.2" height="2.7" rx="0.6"/><rect x="791.5" y="596.77" width="2.2" height="2.7" rx="0.6"/><rect x="792.58" y="596.77" width="2.2" height="2.7" rx="0.6"/><rect x="800.33" y="596.77" width="2.2" height="2.7" rx="0.6"/><rect x="801.62" y="596.77" width="2.2" height="2.7" rx="0.6"/><rect x="802.92" y="596.77" width="2.2" height="2.7" rx="0.6"/><rect x="804.21" y="596.77" width="2.2" height="2.7" rx="0.6"/><rect x="805.5" y="596.77" width="2.2" height="2.7" rx="0.6"/><rect x="806.79" y="596.77" width="2.2" height="2.7" rx="0.6"/><rect x="812.82" y="596.77" width="2.2" height="2.7" rx="0.6"/><rect x="813.9" y="596.77" width="2.2" height="2.7" rx="0.6"/><rect x="814.76" y="605.21" width="2.2" height="2.7" rx="0.6"/><rect x="823.33" y="537.71" width="2.2" height="2.7" rx="0.6"/><rect x="842.72" y="537.71" width="2.2" height="2.7" rx="0.6"/><rect x="843.58" y="537.71" width="2.2" height="2.7" rx="0.6"/><rect x="894.19" y="537.71" width="2.2" height="2.7" rx="0.6"/><rect x="946.53" y="537.71" width="2.2" height="2.7" rx="0.6"/><rect x="962.04" y="537.71" width="2.2" height="2.7" rx="0.6"/><rect x="962.9" y="537.71" width="2.2" height="2.7" rx="0.6"/><rect x="827.64" y="529.27" width="2.2" height="2.7" rx="0.6"/><rect x="833.02" y="529.27" width="2.2" height="2.7" rx="0.6"/><rect x="834.67" y="529.27" width="2.2" height="2.7" rx="0.6"/><rect x="836.33" y="529.27" width="2.2" height="2.7" rx="0.6"/><rect x="837.98" y="529.27" width="2.2" height="2.7" rx="0.6"/><rect x="840.56" y="529.27" width="2.2" height="2.7" rx="0.6"/><rect x="844.65" y="529.27" width="2.2" height="2.7" rx="0.6"/><rect x="851.76" y="529.27" width="2.2" height="2.7" rx="0.6"/><rect x="853.05" y="529.27" width="2.2" height="2.7" rx="0.6"/><rect x="881.27" y="529.27" width="2.2" height="2.7" rx="0.6"/><rect x="887.08" y="529.27" width="2.2" height="2.7" rx="0.6"/><rect x="888.54" y="529.27" width="2.2" height="2.7" rx="0.6"/><rect x="889.99" y="529.27" width="2.2" height="2.7" rx="0.6"/><rect x="891.45" y="529.27" width="2.2" height="2.7" rx="0.6"/><rect x="892.9" y="529.27" width="2.2" height="2.7" rx="0.6"/><rect x="896.13" y="529.27" width="2.2" height="2.7" rx="0.6"/><rect x="897.54" y="529.27" width="2.2" height="2.7" rx="0.6"/><rect x="898.95" y="529.27" width="2.2" height="2.7" rx="0.6"/><rect x="900.36" y="529.27" width="2.2" height="2.7" rx="0.6"/><rect x="901.76" y="529.27" width="2.2" height="2.7" rx="0.6"/><rect x="903.17" y="529.27" width="2.2" height="2.7" rx="0.6"/><rect x="904.58" y="529.27" width="2.2" height="2.7" rx="0.6"/><rect x="905.99" y="529.27" width="2.2" height="2.7" rx="0.6"/><rect x="907.4" y="529.27" width="2.2" height="2.7" rx="0.6"/><rect x="908.81" y="529.27" width="2.2" height="2.7" rx="0.6"/><rect x="910.21" y="529.27" width="2.2" height="2.7" rx="0.6"/><rect x="911.62" y="529.27" width="2.2" height="2.7" rx="0.6"/><rect x="913.03" y="529.27" width="2.2" height="2.7" rx="0.6"/><rect x="914.44" y="529.27" width="2.2" height="2.7" rx="0.6"/><rect x="917.02" y="529.27" width="2.2" height="2.7" rx="0.6"/><rect x="918.46" y="529.27" width="2.2" height="2.7" rx="0.6"/><rect x="919.89" y="529.27" width="2.2" height="2.7" rx="0.6"/><rect x="921.33" y="529.27" width="2.2" height="2.7" rx="0.6"/><rect x="923.7" y="529.27" width="2.2" height="2.7" rx="0.6"/><rect x="926.72" y="529.27" width="2.2" height="2.7" rx="0.6"/><rect x="928.14" y="529.27" width="2.2" height="2.7" rx="0.6"/><rect x="929.56" y="529.27" width="2.2" height="2.7" rx="0.6"/><rect x="930.98" y="529.27" width="2.2" height="2.7" rx="0.6"/><rect x="932.4" y="529.27" width="2.2" height="2.7" rx="0.6"/><rect x="933.82" y="529.27" width="2.2" height="2.7" rx="0.6"/><rect x="935.24" y="529.27" width="2.2" height="2.7" rx="0.6"/><rect x="936.67" y="529.27" width="2.2" height="2.7" rx="0.6"/><rect x="938.09" y="529.27" width="2.2" height="2.7" rx="0.6"/><rect x="939.51" y="529.27" width="2.2" height="2.7" rx="0.6"/><rect x="940.93" y="529.27" width="2.2" height="2.7" rx="0.6"/><rect x="947.82" y="529.27" width="2.2" height="2.7" rx="0.6"/><rect x="949.3" y="529.27" width="2.2" height="2.7" rx="0.6"/><rect x="950.78" y="529.27" width="2.2" height="2.7" rx="0.6"/><rect x="952.27" y="529.27" width="2.2" height="2.7" rx="0.6"/><rect x="953.75" y="529.27" width="2.2" height="2.7" rx="0.6"/><rect x="955.23" y="529.27" width="2.2" height="2.7" rx="0.6"/><rect x="956.71" y="529.27" width="2.2" height="2.7" rx="0.6"/><rect x="958.19" y="529.27" width="2.2" height="2.7" rx="0.6"/><rect x="959.67" y="529.27" width="2.2" height="2.7" rx="0.6"/><rect x="828.93" y="520.84" width="2.2" height="2.7" rx="0.6"/><rect x="839.05" y="520.84" width="2.2" height="2.7" rx="0.6"/><rect x="841.85" y="520.84" width="2.2" height="2.7" rx="0.6"/><rect x="845.95" y="520.84" width="2.2" height="2.7" rx="0.6"/><rect x="848.75" y="520.84" width="2.2" height="2.7" rx="0.6"/><rect x="850.47" y="520.84" width="2.2" height="2.7" rx="0.6"/><rect x="874.16" y="520.84" width="2.2" height="2.7" rx="0.6"/><rect x="875.67" y="520.84" width="2.2" height="2.7" rx="0.6"/><rect x="877.18" y="520.84" width="2.2" height="2.7" rx="0.6"/><rect x="878.68" y="520.84" width="2.2" height="2.7" rx="0.6"/><rect x="880.19" y="520.84" width="2.2" height="2.7" rx="0.6"/><rect x="884.07" y="520.84" width="2.2" height="2.7" rx="0.6"/><rect x="885.79" y="520.84" width="2.2" height="2.7" rx="0.6"/><rect x="915.08" y="520.84" width="2.2" height="2.7" rx="0.6"/><rect x="915.95" y="520.84" width="2.2" height="2.7" rx="0.6"/><rect x="921.98" y="520.84" width="2.2" height="2.7" rx="0.6"/><rect x="923.27" y="520.84" width="2.2" height="2.7" rx="0.6"/><rect x="925.85" y="520.84" width="2.2" height="2.7" rx="0.6"/><rect x="942.01" y="520.84" width="2.2" height="2.7" rx="0.6"/><rect x="943.23" y="520.84" width="2.2" height="2.7" rx="0.6"/><rect x="944.45" y="520.84" width="2.2" height="2.7" rx="0.6"/><rect x="945.67" y="520.84" width="2.2" height="2.7" rx="0.6"/><rect x="830.22" y="512.4" width="2.2" height="2.7" rx="0.6"/><rect x="831.95" y="512.4" width="2.2" height="2.7" rx="0.6"/><rect x="854.35" y="512.4" width="2.2" height="2.7" rx="0.6"/><rect x="862.96" y="512.4" width="2.2" height="2.7" rx="0.6"/><rect x="870.07" y="512.4" width="2.2" height="2.7" rx="0.6"/><rect x="871.58" y="512.4" width="2.2" height="2.7" rx="0.6"/><rect x="882.78" y="512.4" width="2.2" height="2.7" rx="0.6"/><rect x="847.45" y="503.96" width="2.2" height="2.7" rx="0.6"/><rect x="855.85" y="503.96" width="2.2" height="2.7" rx="0.6"/><rect x="857.42" y="503.96" width="2.2" height="2.7" rx="0.6"/><rect x="858.98" y="503.96" width="2.2" height="2.7" rx="0.6"/><rect x="860.54" y="503.96" width="2.2" height="2.7" rx="0.6"/><rect x="862.1" y="503.96" width="2.2" height="2.7" rx="0.6"/><rect x="864.47" y="503.96" width="2.2" height="2.7" rx="0.6"/><rect x="865.55" y="503.96" width="2.2" height="2.7" rx="0.6"/><rect x="872.87" y="503.96" width="2.2" height="2.7" rx="0.6"/><rect x="866.84" y="495.52" width="2.2" height="2.7" rx="0.6"/><rect x="868.56" y="495.52" width="2.2" height="2.7" rx="0.6"/><rect x="960.75" y="563.02" width="2.2" height="2.7" rx="0.6"/></g>
</svg>
</body></html>
